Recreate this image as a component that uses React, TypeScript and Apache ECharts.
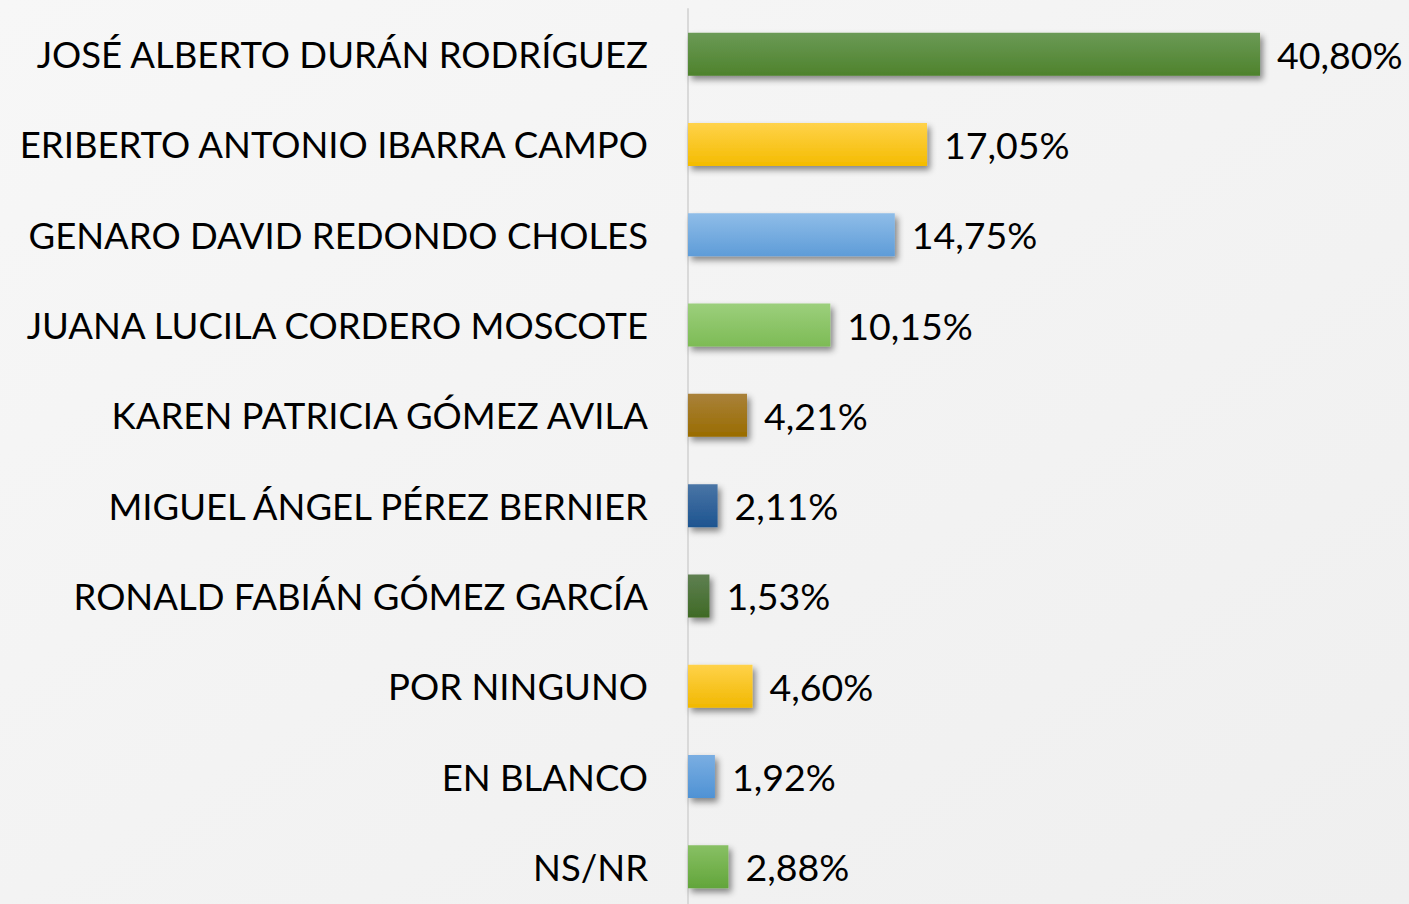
import React, { useEffect, useRef } from "react";
import * as echarts from "echarts";

const categories = [
  "JOSÉ ALBERTO DURÁN RODRÍGUEZ",
  "ERIBERTO ANTONIO IBARRA CAMPO",
  "GENARO DAVID REDONDO CHOLES",
  "JUANA LUCILA CORDERO MOSCOTE",
  "KAREN PATRICIA GÓMEZ AVILA",
  "MIGUEL ÁNGEL PÉREZ BERNIER",
  "RONALD FABIÁN GÓMEZ GARCÍA",
  "POR NINGUNO",
  "EN BLANCO",
  "NS/NR",
];
const values = [40.8, 17.05, 14.75, 10.15, 4.21, 2.11, 1.53, 4.6, 1.92, 2.88];
const topColors = ["#6b9a56", "#ffd24a", "#8fbde8", "#9ccf7c", "#a9813a", "#4a75a6", "#5f8052", "#ffd24a", "#7aaee2", "#88c064"];
const bottomColors = ["#4e822c", "#f4bc00", "#5e9cd8", "#7dbb55", "#996c00", "#1d5490", "#3f6a25", "#f1b800", "#4f92d4", "#62a53a"];

export default function App() {
  const ref = useRef<HTMLDivElement>(null);
  useEffect(() => {
    const chart = echarts.init(ref.current!, null, { renderer: "svg" });
    const data = values.map((v, i) => ({
      value: v,
      itemStyle: {
        color: new echarts.graphic.LinearGradient(0, 0, 0, 1, [
          { offset: 0, color: topColors[i] },
          { offset: 1, color: bottomColors[i] },
        ]),
        shadowColor: "rgba(0,0,0,0.45)",
        shadowBlur: 6,
        shadowOffsetX: 3,
        shadowOffsetY: 4,
      },
    }));
    chart.setOption({
      animation: false,
      backgroundColor: new echarts.graphic.LinearGradient(0, 0, 1, 1, [
        { offset: 0, color: "#f7f7f7" },
        { offset: 1, color: "#efefef" },
      ]),
      grid: {
        left: 688,
        top: 9,
        width: 701,
        height: 903,
        containLabel: false,
        outerBoundsMode: "none",
      },
      xAxis: {
        type: "value",
        min: 0,
        max: 50,
        show: false,
      },
      yAxis: {
        type: "category",
        inverse: true,
        data: categories,
        axisLine: { show: true, lineStyle: { color: "#d9d9d9", width: 2 } },
        axisTick: { show: false },
        axisLabel: {
          fontFamily: "Lato",
          fontSize: 36.5,
          color: "#000",
          margin: 40,
        },
      },
      series: [
        {
          type: "bar",
          data,
          barWidth: 43,
          label: {
            show: true,
            position: "right",
            distance: 17,
            fontFamily: "Lato",
            fontSize: 37.5,
            color: "#000",
            formatter: (p: any) => p.value.toFixed(2).replace(".", ",") + "%",
          },
        },
      ],
    });
    return () => chart.dispose();
  }, []);
  return (
    <div
      ref={ref}
      style={{ position: "fixed", left: 0, top: 0, width: 1409, height: 904 }}
    />
  );
}
